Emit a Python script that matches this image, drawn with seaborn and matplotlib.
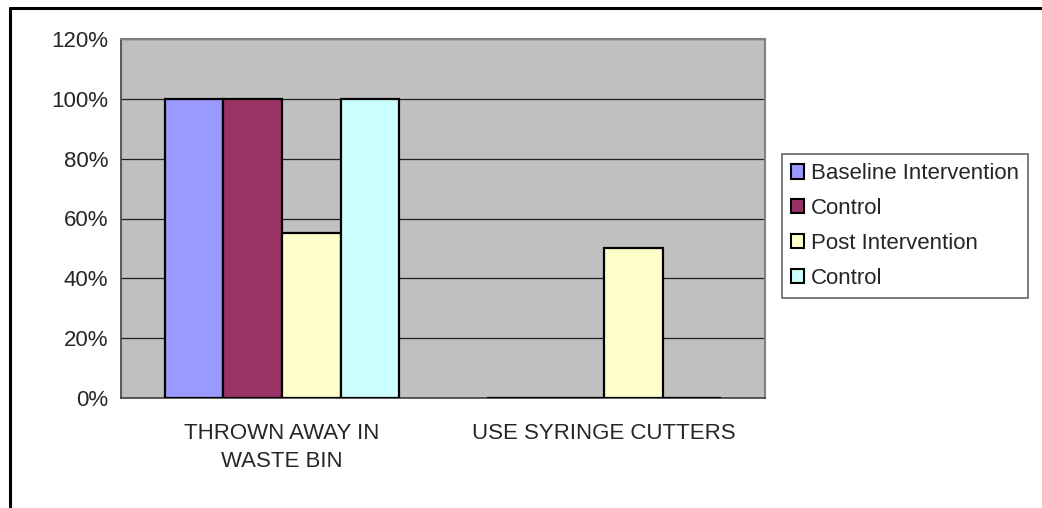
import matplotlib
matplotlib.use('Agg')
import matplotlib.pyplot as plt
from matplotlib.lines import Line2D
from matplotlib.ticker import FuncFormatter, FixedLocator
import seaborn as sns
import pandas as pd

# Datos del gráfico
categorias = ['THROWN AWAY IN\nWASTE BIN', 'USE SYRINGE CUTTERS']
series = ['Baseline Intervention', 'Control ', 'Post Intervention', 'Control']
baseline = [100, 0]
control_base = [100, 0]
post = [55, 50]
control_post = [100, 0]
colores = ['#9999FF', '#993366', '#FFFFCC', '#CCFFFF']

valores = [baseline, control_base, post, control_post]
filas = []
for s, vals in zip(series, valores):
    for c, v in zip(categorias, vals):
        filas.append({'categoria': c, 'serie': s, 'valor': v})
df = pd.DataFrame(filas)

sns.set_style('white')
plt.rcParams['font.family'] = ['Liberation Sans', 'DejaVu Sans']

fig = plt.figure(figsize=(10.42, 5.08), dpi=100)
ax = fig.add_axes([121/1042, 1 - 398/508, 644/1042, 359/508])
ax.set_facecolor('#C0C0C0')

sns.barplot(data=df, x='categoria', y='valor', hue='serie', order=categorias,
            hue_order=series, palette=colores, width=0.727, edgecolor='black',
            linewidth=1.6, saturation=1, ax=ax, legend=False, zorder=3)

ax.set_ylim(0, 120)
ax.set_xlim(-0.5, 1.5)
ax.set_yticks(range(0, 121, 20))
ax.yaxis.set_major_formatter(FuncFormatter(lambda v, p: f'{int(v)}%'))
ax.grid(axis='y', color='#202020', linewidth=0.9, zorder=1)
ax.set_axisbelow(True)
ax.set_xlabel('')
ax.set_ylabel('')

# ticks del eje x en los límites de categoría
ax.xaxis.set_major_locator(FixedLocator([-0.5, 0.5, 1.5]))
ax.xaxis.set_major_formatter(FuncFormatter(lambda v, p: ''))
ax.xaxis.set_minor_locator(FixedLocator([0, 1]))
ax.set_xticklabels(categorias, minor=True)
ax.tick_params(axis='x', which='minor', length=0, pad=18, labelsize=16)
ax.tick_params(axis='x', which='major', direction='out', length=6, width=1, color='black')
ax.tick_params(axis='y', direction='out', length=6, width=1, color='black', labelsize=16, pad=3)
for lbl in ax.get_xticklabels(minor=True):
    lbl.set_linespacing(1.45)

for lado in ['top', 'right']:
    ax.spines[lado].set_color('#808080')
    ax.spines[lado].set_linewidth(1.5)
for lado in ['left', 'bottom']:
    ax.spines[lado].set_color('#404040')
    ax.spines[lado].set_linewidth(1.2)
    ax.spines[lado].set_visible(True)

# leyenda
handles = [plt.Rectangle((0, 0), 1, 1, facecolor=c, edgecolor='black', linewidth=1.5) for c in colores]
etiquetas = ['Baseline Intervention', 'Control', 'Post Intervention', 'Control']
leg = fig.legend(handles, etiquetas, loc='center left', bbox_to_anchor=(782/1042, 1 - 226/508),
                 fontsize=16, frameon=True, fancybox=False, handlelength=0.6, handleheight=0.6,
                 handletextpad=0.3, labelspacing=0.62, borderpad=0.4, borderaxespad=0)
leg.get_frame().set_edgecolor('#404040')
leg.get_frame().set_linewidth(1.2)

# borde exterior (solo superior e izquierdo visibles)
fig.add_artist(Line2D([10/1042, 1], [1 - 8/508, 1 - 8/508], color='black', linewidth=2.2, transform=fig.transFigure))
fig.add_artist(Line2D([10/1042, 10/1042], [0, 1 - 8/508], color='black', linewidth=2.2, transform=fig.transFigure))

fig.savefig('out.png', dpi=100)
